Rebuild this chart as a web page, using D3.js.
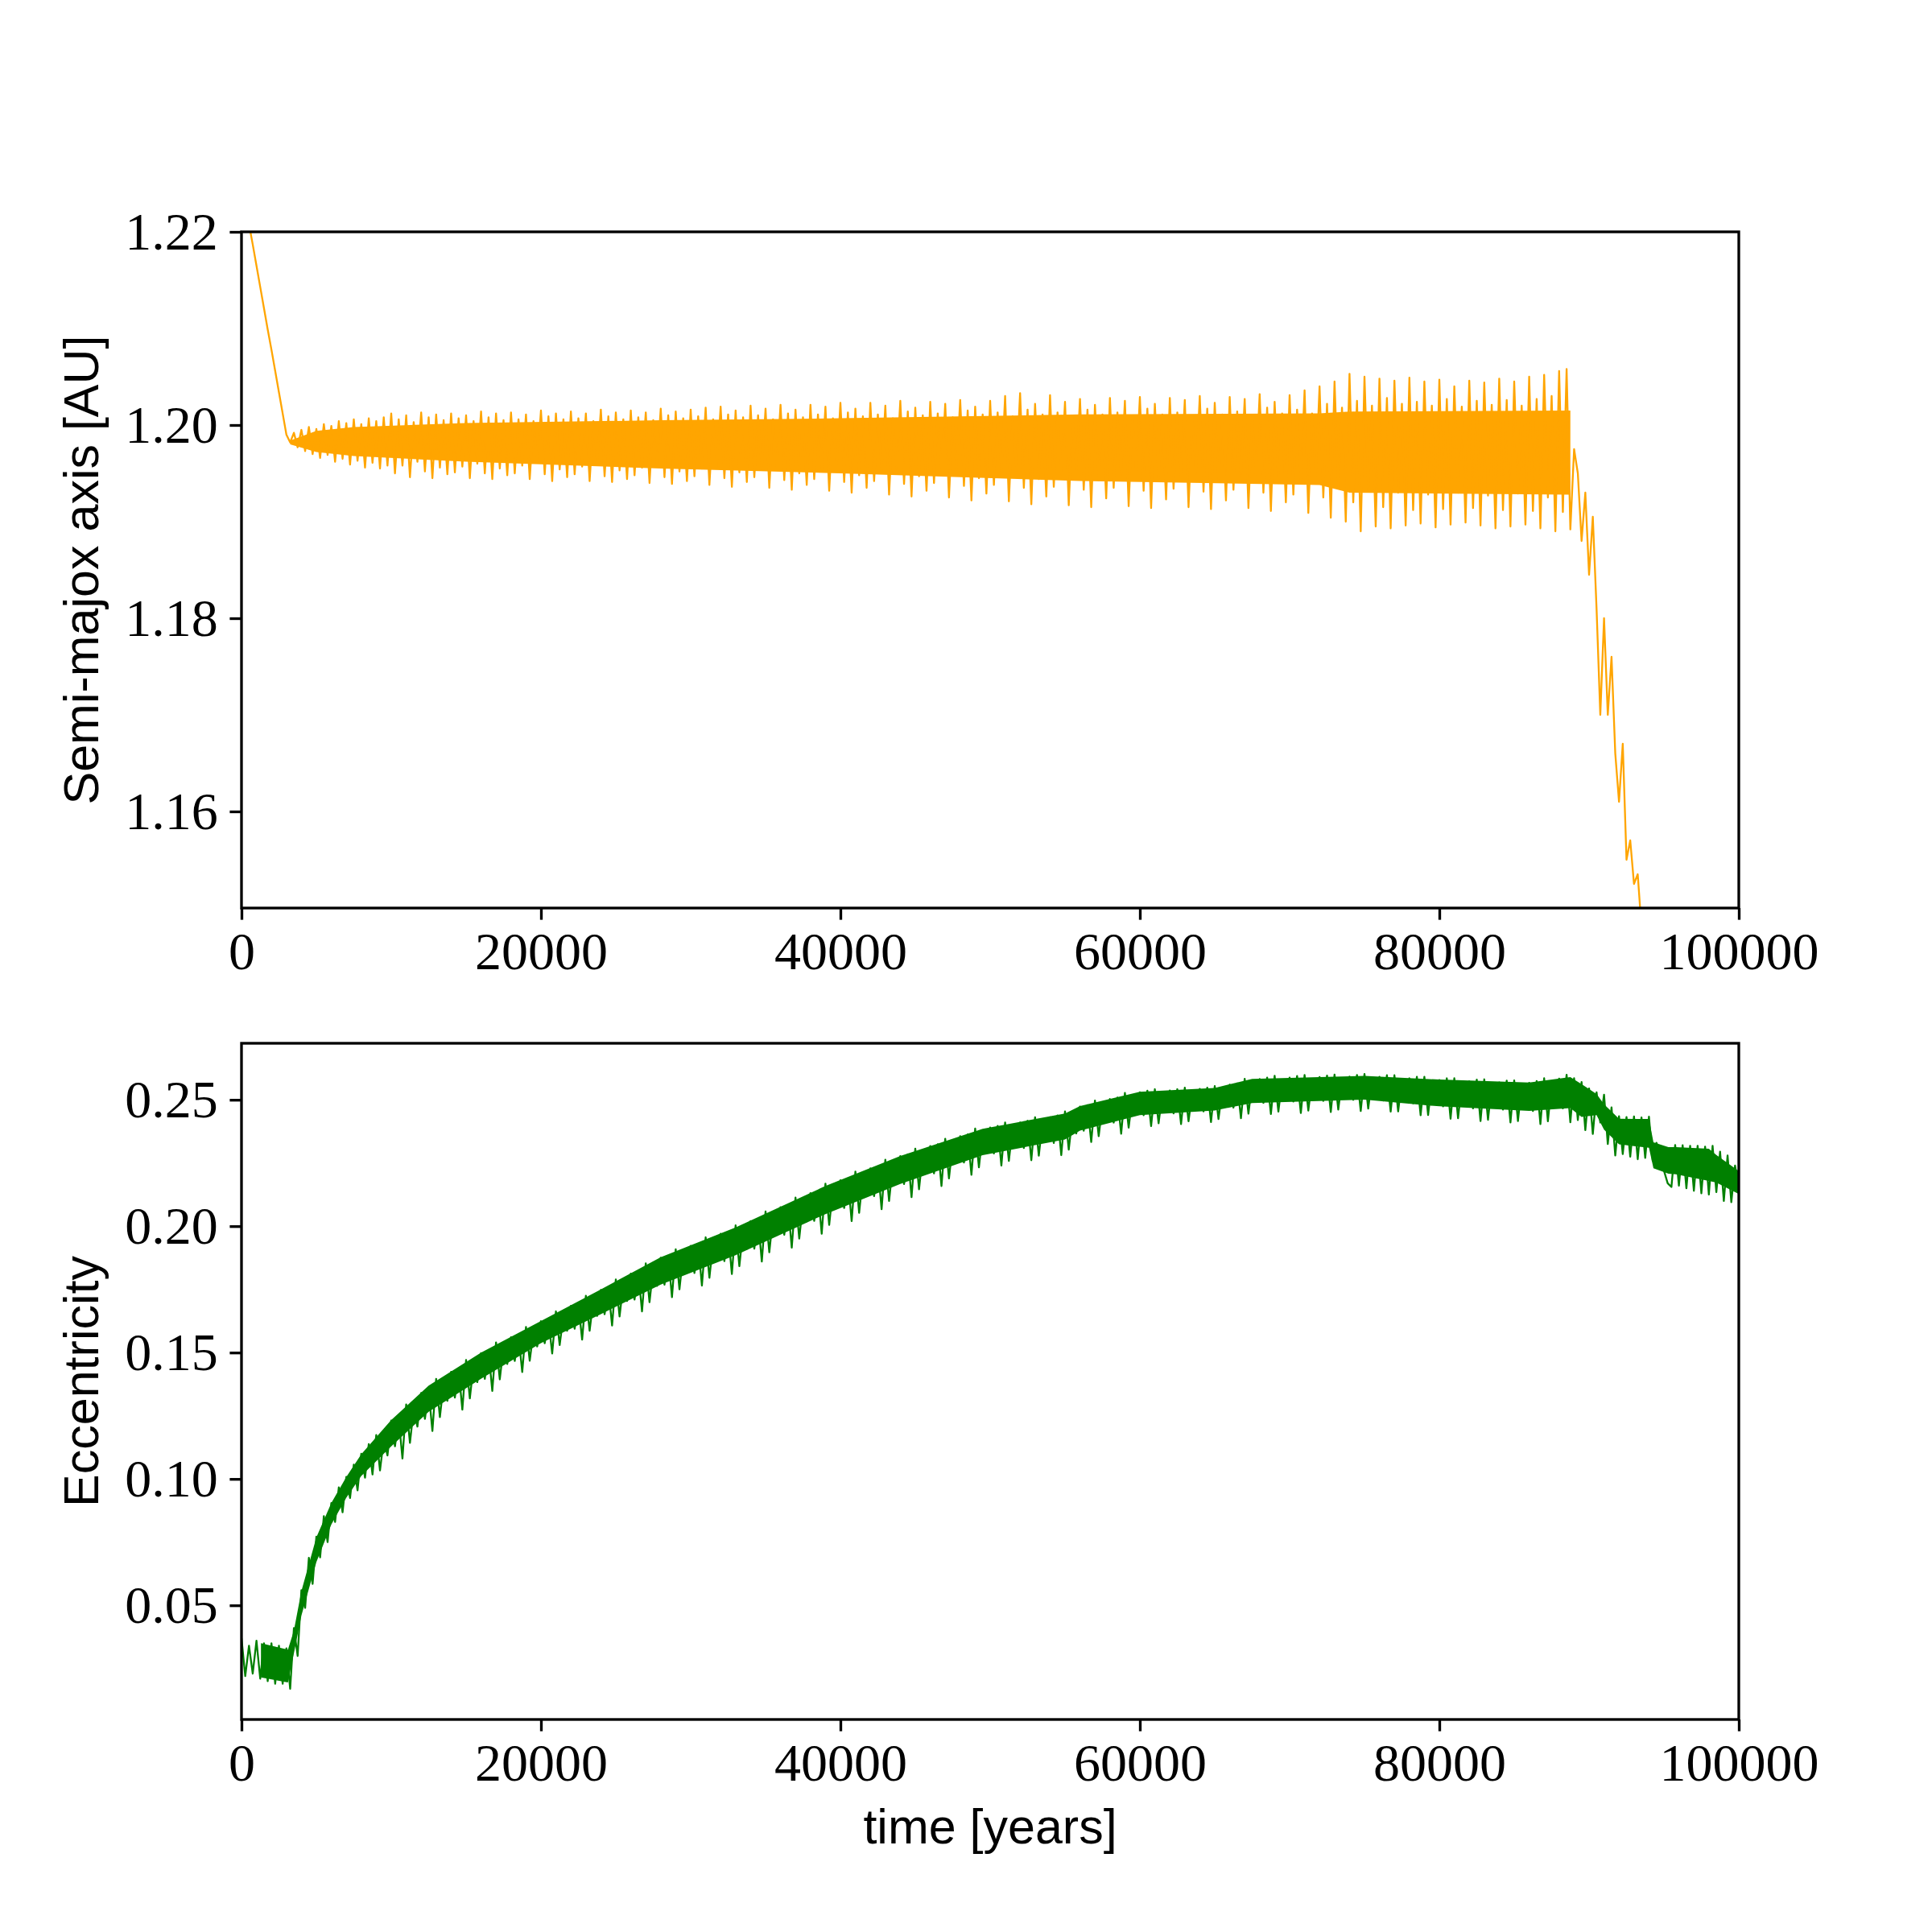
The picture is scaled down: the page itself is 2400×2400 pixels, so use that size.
<!DOCTYPE html>
<html lang="en">
<head>
<meta charset="utf-8">
<script src="https://cdn.jsdelivr.net/npm/d3@7"></script>
<style>
  body { margin: 0; background: white; }
  svg { display: block; background: white; }
  .tick text { font-family: "Liberation Serif", "Times New Roman", serif; font-size: 66px; fill: black; }
  .tick line { stroke: black; stroke-width: 3.33px; }
  .axis-label { font-family: "Liberation Sans", Arial, sans-serif; font-size: 61px; fill: black; }
  .frame { fill: none; stroke: black; stroke-width: 3.33px; }
</style>
</head>
<body>
<script>
// samples are every 250 years, starting at t = 0
var tStep = 250;

var timeTicks = [0, 20000, 40000, 60000, 80000, 100000];
var semiTicks = [1.16, 1.18, 1.20, 1.22];
var eccTicks = [0.05, 0.10, 0.15, 0.20, 0.25];

// semi-major axis [AU] (line leaves the bottom at ~93000 yr)
var semiMajor = [
  1.2252, 1.2230, 1.2208, 1.2187, 1.2165, 1.2143, 1.2121, 1.2099, 1.2078, 1.2056, 1.2034, 1.2012, 1.1990, 1.1982,
  1.1992, 1.1977, 1.1995, 1.1973, 1.1998, 1.1970, 1.1996, 1.1966, 1.2001, 1.1969, 1.1999, 1.1962, 1.2004, 1.1965,
  1.2002, 1.1959, 1.2006, 1.1963, 1.2001, 1.1956, 1.2007, 1.1961, 1.2004, 1.1955, 1.2008, 1.1958,
  1.2012, 1.1950, 1.2006, 1.1958, 1.2010, 1.1946, 1.2003, 1.1962, 1.2013, 1.1952, 1.2008, 1.1945, 1.2011, 1.1956, 1.2005, 1.1949,
  1.2012, 1.1951, 1.2007, 1.1957, 1.2010, 1.1945, 1.2004, 1.1960, 1.2014, 1.1950, 1.2008, 1.1944, 1.2012, 1.1955, 1.2005, 1.1948,
  1.2013, 1.1950, 1.2006, 1.1958, 1.2011, 1.1944, 1.2004, 1.1961, 1.2015, 1.1949, 1.2009, 1.1942, 1.2012, 1.1954, 1.2006, 1.1946,
  1.2014, 1.1949, 1.2007, 1.1957, 1.2012, 1.1942, 1.2004, 1.1960, 1.2016, 1.1947, 1.2009, 1.1941, 1.2013, 1.1953, 1.2006, 1.1944,
  1.2015, 1.1948, 1.2008, 1.1956, 1.2013, 1.1940, 1.2005, 1.1959, 1.2017, 1.1946, 1.2010, 1.1939, 1.2014, 1.1952, 1.2007, 1.1942,
  1.2016, 1.1947, 1.2009, 1.1955, 1.2018, 1.1938, 1.2006, 1.1958, 1.2019, 1.1945, 1.2011, 1.1936, 1.2015, 1.1951, 1.2008, 1.1941,
  1.2020, 1.1946, 1.2010, 1.1954, 1.2017, 1.1935, 1.2006, 1.1957, 1.2021, 1.1943, 1.2012, 1.1933, 1.2016, 1.1950, 1.2008, 1.1938,
  1.2021, 1.1944, 1.2011, 1.1953, 1.2019, 1.1932, 1.2007, 1.1956, 1.2023, 1.1941, 1.2013, 1.1930, 1.2017, 1.1948, 1.2009, 1.1935,
  1.2023, 1.1942, 1.2011, 1.1952, 1.2020, 1.1928, 1.2007, 1.1955, 1.2025, 1.1939, 1.2014, 1.1926, 1.2018, 1.1947, 1.2010, 1.1932,
  1.2024, 1.1940, 1.2012, 1.1951, 1.2022, 1.1925, 1.2008, 1.1954, 1.2026, 1.1937, 1.2015, 1.1922, 1.2019, 1.1945, 1.2011, 1.1929,
  1.2025, 1.1938, 1.2013, 1.1950, 1.2030, 1.1921, 1.2009, 1.1953, 1.2033, 1.1935, 1.2016, 1.1918, 1.2022, 1.1944, 1.2011, 1.1926,
  1.2031, 1.1936, 1.2013, 1.1949, 1.2024, 1.1917, 1.2009, 1.1952, 1.2027, 1.1933, 1.2016, 1.1915, 1.2021, 1.1943, 1.2011, 1.1924,
  1.2028, 1.1935, 1.2013, 1.1948, 1.2025, 1.1916, 1.2009, 1.1951, 1.2029, 1.1932, 1.2017, 1.1914, 1.2022, 1.1942, 1.2011, 1.1923,
  1.2028, 1.1934, 1.2013, 1.1947, 1.2026, 1.1915, 1.2009, 1.1950, 1.2030, 1.1931, 1.2017, 1.1913, 1.2023, 1.1941, 1.2011, 1.1922,
  1.2029, 1.1933, 1.2014, 1.1946, 1.2027, 1.1914, 1.2010, 1.1949, 1.2032, 1.1930, 1.2018, 1.1911, 1.2024, 1.1940, 1.2012, 1.1920,
  1.2031, 1.1928, 1.2016, 1.1944, 1.2036, 1.1909, 1.2012, 1.1946, 1.2040, 1.1925, 1.2022, 1.1904, 1.2045, 1.1935, 1.2018, 1.1900,
  1.2053, 1.1920, 1.2025, 1.1890, 1.2050, 1.1932, 1.2020, 1.1895, 1.2048, 1.1915, 1.2028, 1.1893, 1.2046, 1.1930, 1.2022, 1.1896,
  1.2049, 1.1912, 1.2024, 1.1898, 1.2045, 1.1928, 1.2020, 1.1894, 1.2047, 1.1913, 1.2027, 1.1897, 1.2040, 1.1930, 1.2019, 1.1899,
  1.2046, 1.1914, 1.2025, 1.1896, 1.2044, 1.1927, 1.2021, 1.1893, 1.2048, 1.1912, 1.2026, 1.1895, 1.2045, 1.1929, 1.2020, 1.1897,
  1.2050, 1.1911, 1.2027, 1.1893, 1.2052, 1.1925, 1.2030, 1.1890, 1.2056, 1.1910, 1.2058, 1.1892,
  1.1975, 1.1950, 1.1880, 1.1930, 1.1845, 1.1905, 1.1810, 1.1700, 1.1800, 1.1700, 1.1760, 1.1660,
  1.1610, 1.1670, 1.1550, 1.1570, 1.1525, 1.1535, 1.1480, 1.1440, 1.1400
];

// the densely filled part of the orange band (where the fast oscillation overlaps)
var semiCoreT  = [3250, 5000, 7500, 15000, 28000, 40000, 56000, 72000, 74000, 88750];
var semiCoreHi = [1.1984, 1.1994, 1.1998, 1.2002, 1.2005, 1.2007, 1.2011, 1.2012, 1.2014, 1.2015];
var semiCoreLo = [1.1980, 1.1972, 1.1968, 1.1962, 1.1955, 1.1950, 1.1942, 1.1938, 1.1930, 1.1928];

// eccentricity
var eccentricity = [
  0.0370, 0.0220, 0.0340, 0.0230, 0.0360, 0.0210, 0.0350, 0.0200, 0.0350, 0.0190, 0.0340, 0.0190, 0.0330, 0.0170,
  0.0410, 0.0300,
  0.0560, 0.0490, 0.0688, 0.0585, 0.0772, 0.0690, 0.0853, 0.0750, 0.0905, 0.0830,
  0.0967, 0.0868, 0.1008, 0.0925, 0.1057, 0.0955, 0.1100, 0.1005, 0.1138, 0.1018,
  0.1174, 0.1034, 0.1156, 0.1093, 0.1231, 0.1129, 0.1238, 0.1081, 0.1295, 0.1143, 0.1276, 0.1207,
  0.1340, 0.1238, 0.1347, 0.1190, 0.1396, 0.1245, 0.1377, 0.1309, 0.1424, 0.1322, 0.1431, 0.1274,
  0.1471, 0.1319, 0.1452, 0.1383, 0.1498, 0.1396, 0.1505, 0.1348, 0.1540, 0.1394, 0.1522, 0.1455,
  0.1561, 0.1467, 0.1567, 0.1423, 0.1601, 0.1468, 0.1584, 0.1524, 0.1624, 0.1537, 0.1629, 0.1496,
  0.1663, 0.1530, 0.1646, 0.1586, 0.1685, 0.1594, 0.1691, 0.1551, 0.1725, 0.1586, 0.1707, 0.1645,
  0.1748, 0.1652, 0.1754, 0.1607, 0.1789, 0.1643, 0.1771, 0.1704, 0.1812, 0.1710, 0.1818, 0.1663,
  0.1853, 0.1699, 0.1834, 0.1764, 0.1875, 0.1769, 0.1882, 0.1719, 0.1909, 0.1750, 0.1889, 0.1817,
  0.1922, 0.1815, 0.1929, 0.1765, 0.1956, 0.1796, 0.1936, 0.1864, 0.1970, 0.1862, 0.1977, 0.1811,
  0.2003, 0.1842, 0.1983, 0.1910, 0.2020, 0.1911, 0.2027, 0.1860, 0.2058, 0.1897, 0.2038, 0.1965,
  0.2075, 0.1966, 0.2082, 0.1915, 0.2113, 0.1951, 0.2092, 0.2019, 0.2131, 0.2021, 0.2138, 0.1970,
  0.2168, 0.2005, 0.2147, 0.2073, 0.2182, 0.2072, 0.2189, 0.2020, 0.2216, 0.2053, 0.2195, 0.2121,
  0.2229, 0.2119, 0.2236, 0.2067, 0.2263, 0.2100, 0.2242, 0.2168, 0.2277, 0.2167, 0.2284, 0.2115,
  0.2307, 0.2146, 0.2287, 0.2214, 0.2317, 0.2209, 0.2324, 0.2159, 0.2346, 0.2189, 0.2326, 0.2255,
  0.2356, 0.2252, 0.2363, 0.2203, 0.2386, 0.2233, 0.2367, 0.2297, 0.2390, 0.2288, 0.2397, 0.2240,
  0.2410, 0.2258, 0.2391, 0.2322, 0.2410, 0.2309, 0.2417, 0.2261, 0.2431, 0.2279, 0.2412, 0.2343,
  0.2431, 0.2329, 0.2438, 0.2281, 0.2454, 0.2303, 0.2435, 0.2367, 0.2473, 0.2378, 0.2479, 0.2333,
  0.2497, 0.2356, 0.2479, 0.2416, 0.2503, 0.2410, 0.2509, 0.2366, 0.2527, 0.2390, 0.2510, 0.2448,
  0.2530, 0.2439, 0.2536, 0.2396, 0.2542, 0.2407, 0.2525, 0.2464, 0.2537, 0.2446, 0.2542, 0.2404,
  0.2548, 0.2415, 0.2531, 0.2471, 0.2543, 0.2454, 0.2548, 0.2412, 0.2554, 0.2424, 0.2538, 0.2479,
  0.2560, 0.2469, 0.2565, 0.2427, 0.2583, 0.2445, 0.2566, 0.2503, 0.2582, 0.2488, 0.2588, 0.2444,
  0.2595, 0.2453, 0.2577, 0.2513, 0.2588, 0.2493, 0.2594, 0.2448, 0.2598, 0.2457, 0.2580, 0.2517,
  0.2590, 0.2496, 0.2596, 0.2452, 0.2600, 0.2461, 0.2582, 0.2520, 0.2592, 0.2500, 0.2598, 0.2456,
  0.2602, 0.2465, 0.2585, 0.2523, 0.2591, 0.2497, 0.2597, 0.2453, 0.2597, 0.2454, 0.2579, 0.2514,
  0.2585, 0.2486, 0.2591, 0.2439, 0.2591, 0.2440, 0.2572, 0.2504, 0.2578, 0.2474, 0.2585, 0.2425,
  0.2585, 0.2427, 0.2565, 0.2494, 0.2573, 0.2466, 0.2580, 0.2416, 0.2581, 0.2421, 0.2561, 0.2489,
  0.2569, 0.2461, 0.2576, 0.2410, 0.2577, 0.2416, 0.2557, 0.2484, 0.2567, 0.2456, 0.2574, 0.2404,
  0.2585, 0.2415, 0.2564, 0.2487, 0.2584, 0.2466, 0.2599, 0.2411,
  0.2585, 0.2420, 0.2570, 0.2380, 0.2545, 0.2365, 0.2530, 0.2410, 0.2520, 0.2325, 0.2470, 0.2280,
  0.2435, 0.2285, 0.2432, 0.2275, 0.2434, 0.2265, 0.2430, 0.2270, 0.2433, 0.2258, 0.2330, 0.2290,
  0.2220, 0.2170, 0.2155, 0.2321, 0.2160, 0.2320, 0.2150, 0.2318, 0.2140, 0.2318, 0.2130, 0.2315,
  0.2125, 0.2318, 0.2135, 0.2295, 0.2100, 0.2280, 0.2095, 0.2240, 0.2150
];

// the densely filled part of the green band
var eccCoreT  = [1300, 3100, 3500, 4000, 5000, 6000, 7000, 8000, 10000, 12500, 16000, 20000, 24000, 28000,
                 33000, 39000, 44000, 49500, 55000, 56000, 60000, 65000, 67500, 75000, 80000, 86000, 88750,
                 89500, 90500, 91000, 92000, 94000, 94300, 95300, 95800, 98000, 98500, 100000];
var eccCoreHi = [0.0350, 0.0325, 0.0400, 0.0556, 0.0769, 0.0905, 0.1008, 0.1098, 0.1233, 0.1369, 0.1500, 0.1625,
                 0.1750, 0.1877, 0.1995, 0.2159, 0.2278, 0.2385, 0.2446, 0.2475, 0.2532, 0.2547, 0.2583, 0.2595,
                 0.2580, 0.2568, 0.2590, 0.2562, 0.2523, 0.2482, 0.2425, 0.2424, 0.2332, 0.2313, 0.2313, 0.2306,
                 0.2282, 0.2218];
var eccCoreLo = [0.0215, 0.0195, 0.0310, 0.0459, 0.0671, 0.0820, 0.0926, 0.1012, 0.1129, 0.1266, 0.1396, 0.1537,
                 0.1652, 0.1769, 0.1885, 0.2048, 0.2167, 0.2281, 0.2343, 0.2378, 0.2439, 0.2458, 0.2487, 0.2501,
                 0.2474, 0.2456, 0.2467, 0.2432, 0.2439, 0.2382, 0.2324, 0.2310, 0.2229, 0.2208, 0.2205, 0.2179,
                 0.2173, 0.2127];

var width = 2400, height = 2400;
var left = 300, right = 2160;
var panels = [
  { top: 288, bottom: 1128 },
  { top: 1296, bottom: 2136 }
];

var svg = d3.select("body").append("svg")
  .attr("width", width)
  .attr("height", height);

var x = d3.scaleLinear().domain([0, 100000]).range([left, right]);

// matplotlib-style autoscale: data range plus 5% each side
var eExt = d3.extent(eccentricity);
var ePad = (eExt[1] - eExt[0]) * 0.05;

var ySemi = d3.scaleLinear().domain([1.15, 1.22]).range([panels[0].bottom, panels[0].top]);
var yEcc = d3.scaleLinear().domain([eExt[0] - ePad, eExt[1] + ePad]).range([panels[1].bottom, panels[1].top]);

function drawPanel(idx, values, coreT, coreHi, coreLo, y, ticks, color, label) {
  var p = panels[idx];
  var g = svg.append("g");

  g.append("clipPath").attr("id", "clip" + idx)
    .append("rect")
    .attr("x", left).attr("y", p.top)
    .attr("width", right - left).attr("height", p.bottom - p.top);

  var plot = g.append("g").attr("clip-path", "url(#clip" + idx + ")");

  var area = d3.area()
    .x(function(d, i) { return x(coreT[i]); })
    .y0(function(d, i) { return y(coreLo[i]); })
    .y1(function(d, i) { return y(coreHi[i]); });

  plot.append("path")
    .datum(coreT)
    .attr("fill", color)
    .attr("d", area);

  var line = d3.line()
    .x(function(d, i) { return x(i * tStep); })
    .y(function(d) { return y(d); });

  plot.append("path")
    .datum(values)
    .attr("fill", "none")
    .attr("stroke", color)
    .attr("stroke-width", 2.3)
    .attr("stroke-linejoin", "round")
    .attr("d", line);

  var xAxis = g.append("g")
    .attr("transform", "translate(0," + p.bottom + ")")
    .call(d3.axisBottom(x).tickValues(timeTicks).tickFormat(d3.format("d"))
      .tickSize(14.6).tickPadding(14.6));
  xAxis.select(".domain").remove();

  var yAxis = g.append("g")
    .attr("transform", "translate(" + left + ",0)")
    .call(d3.axisLeft(y).tickValues(ticks).tickFormat(d3.format(".2f"))
      .tickSize(14.6).tickPadding(14.6));
  yAxis.select(".domain").remove();

  g.selectAll(".tick text").attr("font-family", null).attr("font-size", null);

  g.append("rect").attr("class", "frame")
    .attr("x", left).attr("y", p.top)
    .attr("width", right - left).attr("height", p.bottom - p.top);

  g.append("text").attr("class", "axis-label")
    .attr("transform", "translate(122," + (p.top + p.bottom) / 2 + ") rotate(-90)")
    .attr("text-anchor", "middle")
    .text(label);
}

drawPanel(0, semiMajor, semiCoreT, semiCoreHi, semiCoreLo, ySemi, semiTicks, "orange", "Semi-majox axis [AU]");
drawPanel(1, eccentricity, eccCoreT, eccCoreHi, eccCoreLo, yEcc, eccTicks, "green", "Eccentricity");

svg.append("text").attr("class", "axis-label")
  .attr("x", (left + right) / 2).attr("y", 2290)
  .attr("text-anchor", "middle")
  .text("time [years]");
</script>
</body>
</html>
